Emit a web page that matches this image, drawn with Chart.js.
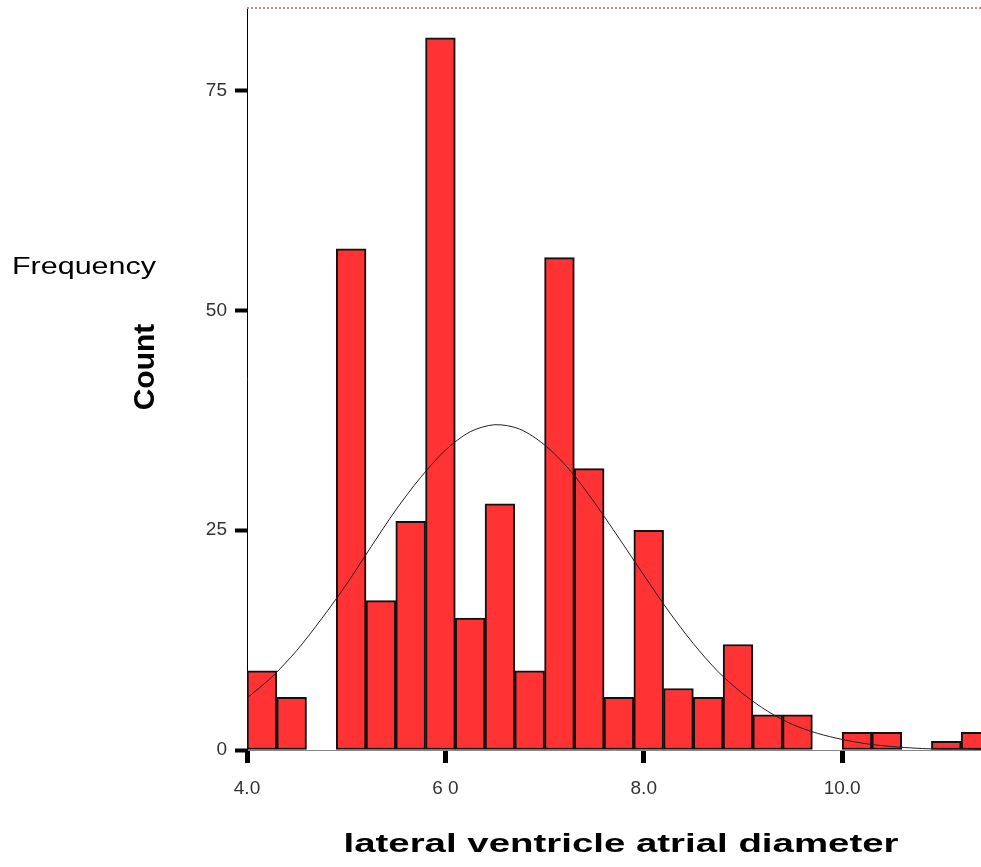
<!DOCTYPE html>
<html>
<head>
<meta charset="utf-8">
<script src="https://cdn.jsdelivr.net/npm/chart.js@4.4.1/dist/chart.umd.min.js"></script>
<style>
  html, body { margin: 0; padding: 0; background: #fff; }
  #wrap { position: relative; width: 981px; height: 867px; }
</style>
</head>
<body>
<div id="wrap"><canvas id="histChart"></canvas></div>
<script>
// histogram bins (width 0.3), centre of each bin
const binCenters = [4.15, 4.45, 4.75, 5.05, 5.35, 5.65, 5.95, 6.25, 6.55, 6.85, 7.15, 7.45, 7.75,
  8.05, 8.35, 8.65, 8.95, 9.25, 9.55, 9.85, 10.15, 10.45, 10.75, 11.05, 11.35];
const counts = [9, 6, 0, 57, 17, 26, 81, 15, 28, 9, 56, 32, 6,
  25, 7, 6, 12, 4, 4, 0, 2, 2, 0, 1, 2];

// normal curve
const curveX = [4.0, 4.25, 4.5, 4.75, 5.0, 5.25, 5.5, 5.75, 6.0, 6.25, 6.5, 6.75, 7.0, 7.25, 7.5,
  7.75, 8.0, 8.25, 8.5, 8.75, 9.0, 9.25, 9.5, 9.75, 10.0, 10.25, 10.5, 10.75, 11.0, 11.25, 11.5];
const curveY = [5.9, 8.3, 11.3, 14.9, 18.8, 23.1, 27.3, 31.0, 34.1, 36.2, 37.0, 36.5, 34.7, 31.9, 28.2,
  24.1, 19.9, 15.8, 12.1, 8.9, 6.4, 4.4, 2.9, 1.9, 1.2, 0.7, 0.4, 0.2, 0.1, 0.1, 0.0];

const yTicks = [0, 25, 50, 75];
const xTickValues = [4, 6, 8, 10];
const xTickLabels = ["4.0", "6 0", "8.0", "10.0"];

const ctx = document.getElementById("histChart");

const textPlugin = {
  id: "textPlugin",
  beforeDatasetsDraw(chart) {
    const c = chart.ctx;
    const area = chart.chartArea;
    // dotted frame line on top
    c.save();
    c.strokeStyle = "#c98a8a";
    c.lineWidth = 2;
    c.setLineDash([2, 2]);
    c.beginPath();
    c.moveTo(area.left, area.top);
    c.lineTo(area.right, area.top);
    c.stroke();
    c.restore();
  },
  afterDraw(chart) {
    const c = chart.ctx;
    c.save();
    c.fillStyle = "#000";

    // "Frequency"
    c.font = '24.5px "Liberation Sans", Arial, sans-serif';
    c.textAlign = "left";
    c.textBaseline = "alphabetic";
    let w = c.measureText("Frequency").width;
    c.save();
    c.translate(12, 274);
    c.scale(144 / w, 1);
    c.fillText("Frequency", 0, 0);
    c.restore();

    // "Count"
    c.font = 'bold 30px "Liberation Sans", Arial, sans-serif';
    c.textAlign = "center";
    c.textBaseline = "middle";
    c.save();
    c.translate(146, 367);
    c.rotate(-Math.PI / 2);
    c.fillText("Count", 0, 0);
    c.restore();

    // x title
    const xt = "lateral ventricle atrial diameter";
    c.font = 'bold 26px "Liberation Sans", Arial, sans-serif';
    c.textAlign = "center";
    c.textBaseline = "alphabetic";
    w = c.measureText(xt).width;
    c.save();
    c.translate(621, 852);
    c.scale(555 / w, 1);
    c.fillText(xt, 0, 0);
    c.restore();

    c.restore();
  }
};

new Chart(ctx, {
  type: "bar",
  data: {
    datasets: [
      {
        type: "line",
        data: curveX.map((x, i) => ({ x: x, y: curveY[i] })),
        borderColor: "#222",
        borderWidth: 1,
        pointRadius: 0,
        tension: 0.3,
        fill: false,
        order: 0
      },
      {
        type: "bar",
        data: binCenters.map((x, i) => ({ x: x, y: counts[i] })),
        backgroundColor: "#ff3333",
        borderColor: "#111",
        borderWidth: 2,
        borderSkipped: false,
        barPercentage: 1.0,
        categoryPercentage: 1.0,
        order: 1
      }
    ]
  },
  options: {
    responsive: true,
    maintainAspectRatio: false,
    animation: false,
    devicePixelRatio: 1,
    layout: { padding: { top: 8, right: 0, left: 0, bottom: 0 } },
    plugins: {
      legend: { display: false },
      tooltip: { enabled: false }
    },
    scales: {
      x: {
        type: "linear",
        min: 4,
        max: 11.4,
        offset: false,
        afterBuildTicks: (s) => { s.ticks = xTickValues.map(v => ({ value: v })); },
        afterFit: (s) => {
          s.height = 117;
          s.paddingLeft = 0;
          s.paddingRight = 0;
        },
        ticks: {
          autoSkip: false,
          maxRotation: 0,
          padding: 14,
          color: "#333",
          font: { family: "Liberation Sans", size: 19 },
          callback: (v) => xTickLabels[xTickValues.indexOf(v)]
        },
        grid: {
          offset: false,
          drawOnChartArea: false,
          drawTicks: true,
          tickLength: 13,
          tickWidth: 5,
          tickColor: "#000"
        },
        border: { display: true, color: "#888", width: 1 }
      },
      y: {
        min: 0,
        max: 84.4,
        afterBuildTicks: (s) => { s.ticks = yTicks.map(v => ({ value: v })); },
        afterFit: (s) => {
          s.width = 247;
          s.paddingTop = 0;
          s.paddingBottom = 0;
        },
        ticks: {
          padding: 8,
          color: "#333",
          font: { family: "Liberation Sans", size: 19 }
        },
        grid: {
          drawOnChartArea: false,
          drawTicks: true,
          tickLength: 12,
          tickWidth: 4,
          tickColor: "#000"
        },
        border: { display: true, color: "#000", width: 1 }
      }
    }
  },
  plugins: [textPlugin]
});
</script>
</body>
</html>
